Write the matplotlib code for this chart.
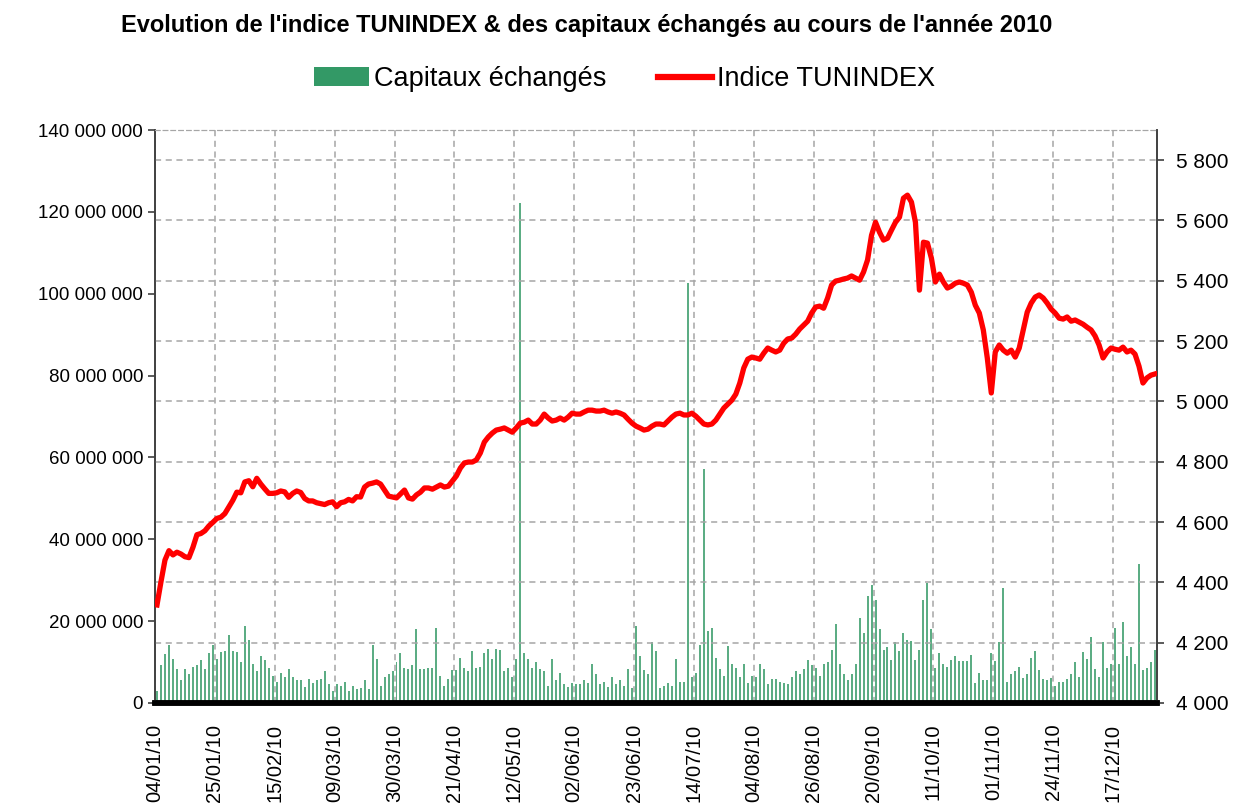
import matplotlib
matplotlib.use('Agg')
import matplotlib.pyplot as plt
import numpy as np
from matplotlib.patches import Patch
from matplotlib.lines import Line2D
from matplotlib.ticker import FuncFormatter, MultipleLocator

plt.rcParams['font.family'] = ['Liberation Sans', 'DejaVu Sans']

GREEN = '#339966'
RED = '#ff0000'
GRID = '#a6a6a6'

# tick labels: one every 15 trading days
date_labels = ['04/01/10', '25/01/10', '15/02/10', '09/03/10', '30/03/10',
               '21/04/10', '12/05/10', '02/06/10', '23/06/10', '14/07/10',
               '04/08/10', '26/08/10', '20/09/10', '11/10/10', '01/11/10',
               '24/11/10', '17/12/10']

# daily traded capital, millions of dinars
capitaux_m = [
    3.0, 9.3, 11.9, 14.2, 10.8, 8.3, 5.5, 8.3, 7.1, 8.9,
    9.3, 10.5, 8.3, 12.1, 14.2, 10.8, 12.4, 12.7, 16.5, 12.7,
    12.4, 9.9, 18.9, 15.5, 9.6, 7.7, 11.5, 10.5, 8.6, 6.7,
    5.2, 7.4, 6.4, 8.3, 6.4, 5.5, 5.5, 4.0, 5.9, 4.9,
    5.5, 5.9, 7.7, 4.6, 3.0, 4.6, 4.2, 5.2, 3.0, 4.2,
    3.3, 3.7, 5.5, 3.3, 14.2, 10.8, 4.2, 6.4, 7.1, 7.7,
    9.9, 12.1, 8.6, 8.3, 9.3, 18.0, 8.3, 8.3, 8.6, 8.6,
    18.4, 6.7, 4.2, 5.9, 8.0, 8.0, 11.1, 8.6, 7.7, 12.7,
    8.6, 8.9, 12.1, 13.3, 10.8, 13.3, 13.0, 7.7, 8.6, 6.4,
    10.8, 122.2, 12.1, 10.8, 8.6, 9.9, 8.3, 7.7, 4.2, 10.8,
    5.5, 7.4, 4.6, 4.0, 4.9, 4.6, 4.6, 5.5, 4.9, 9.6,
    7.1, 4.6, 5.2, 4.0, 6.4, 4.6, 5.5, 4.2, 8.3, 3.7,
    18.7, 11.5, 8.0, 7.1, 14.8, 12.7, 3.7, 4.2, 4.9, 4.2,
    10.8, 5.2, 5.2, 102.6, 6.4, 7.4, 14.2, 57.2, 17.6, 18.4,
    11.1, 8.3, 6.7, 14.0, 9.6, 8.6, 6.4, 9.6, 4.9, 6.7,
    6.4, 9.6, 8.3, 4.6, 5.9, 5.9, 5.2, 4.9, 4.6, 6.4,
    7.7, 7.1, 8.3, 10.5, 9.3, 8.6, 6.7, 9.6, 9.9, 13.0,
    19.3, 9.6, 7.1, 5.5, 7.1, 9.6, 20.8, 17.1, 26.1, 28.9,
    25.2, 18.0, 13.0, 13.7, 10.5, 14.8, 12.7, 17.1, 15.5, 15.2,
    10.5, 13.0, 25.2, 29.3, 18.0, 8.6, 12.1, 9.6, 8.9, 10.5,
    11.5, 10.2, 10.2, 10.2, 11.8, 4.9, 7.4, 5.5, 5.5, 12.1,
    10.2, 14.8, 28.0, 5.2, 7.1, 7.7, 8.9, 6.1, 7.1, 11.1,
    12.7, 8.0, 5.9, 5.5, 6.1, 4.2, 5.2, 5.2, 5.9, 7.1,
    9.9, 6.4, 12.4, 10.8, 16.2, 8.3, 6.4, 14.8, 8.6, 9.6,
    18.4, 9.6, 19.9, 11.5, 13.7, 9.6, 33.9, 8.0, 8.6, 9.9,
    13.0,
]

# TUNINDEX closing values
tunindex = [
    4325, 4402, 4474, 4505, 4491, 4500, 4494, 4485, 4482, 4516,
    4558, 4562, 4571, 4587, 4599, 4612, 4616, 4628, 4650, 4672,
    4699, 4697, 4733, 4737, 4717, 4745, 4726, 4710, 4695, 4695,
    4697, 4703, 4700, 4682, 4695, 4703, 4698, 4678, 4670, 4670,
    4664, 4661, 4658, 4664, 4667, 4651, 4664, 4667, 4675, 4670,
    4684, 4683, 4716, 4726, 4729, 4733, 4726, 4706, 4686, 4683,
    4680, 4693, 4706, 4680, 4676, 4690, 4699, 4713, 4713, 4709,
    4716, 4723, 4716, 4719, 4736, 4753, 4779, 4796, 4799, 4799,
    4806, 4829, 4865, 4882, 4895, 4905, 4908, 4912, 4905, 4898,
    4912, 4928, 4931, 4938, 4925, 4925, 4938, 4958, 4945, 4935,
    4938, 4945, 4938, 4948, 4961, 4958, 4958, 4965, 4971, 4971,
    4968, 4968, 4971, 4965, 4961, 4965, 4961, 4955, 4941, 4928,
    4918, 4912, 4905, 4908, 4918, 4925, 4925, 4922, 4935, 4948,
    4958, 4961, 4955, 4955, 4961, 4951, 4938, 4925, 4922, 4925,
    4938, 4958, 4978, 4991, 5004, 5024, 5061, 5111, 5140, 5147,
    5144, 5140, 5160, 5177, 5170, 5164, 5170, 5193, 5207, 5210,
    5223, 5240, 5253, 5266, 5293, 5313, 5316, 5309, 5343, 5386,
    5399, 5402, 5406, 5409, 5416, 5409, 5402, 5429, 5469, 5551,
    5594, 5561, 5535, 5541, 5568, 5594, 5611, 5674, 5684, 5661,
    5594, 5369, 5528, 5525, 5475, 5396, 5422, 5396, 5376, 5382,
    5392, 5396, 5392, 5386, 5362, 5319, 5293, 5237, 5144, 5028,
    5164, 5187, 5170, 5160, 5170, 5147, 5177, 5237, 5296, 5326,
    5346, 5353, 5343, 5326, 5306, 5293, 5276, 5273, 5280, 5266,
    5270, 5263, 5256, 5246, 5237, 5217, 5187, 5144, 5164, 5177,
    5173, 5170, 5180, 5164, 5170, 5157, 5117, 5061, 5078, 5087,
    5091,
]

n = len(capitaux_m)
x = np.arange(n) + 0.5
capitaux = np.array(capitaux_m) * 1e6


def space_thousands(v, pos):
    return f'{int(round(v)):,}'.replace(',', ' ')


fig = plt.figure(figsize=(12.35, 8.07), dpi=100)
ax = fig.add_axes([0.1255, 0.1289, 0.8113, 0.710])
ax2 = ax.twinx()

ax.bar(x, capitaux, width=0.5, color=GREEN, alpha=0.8, linewidth=0, zorder=2)
ax2.plot(x, tunindex, color=RED, lw=3.8, solid_joinstyle='round', zorder=5)

ax.set_xlim(0, n)
ax.set_ylim(0, 140e6)
ax2.set_ylim(4000, 5900)

ax.yaxis.set_major_locator(MultipleLocator(20e6))
ax.yaxis.set_major_formatter(FuncFormatter(space_thousands))
ax2.set_yticks(np.arange(4000, 5801, 200))
ax2.yaxis.set_major_formatter(FuncFormatter(space_thousands))

ax.set_xticks(np.arange(len(date_labels)) * 15)
ax.set_xticklabels(date_labels, rotation=90, fontsize=14.5)
ax.tick_params(axis='x', length=0, pad=15)
ax.tick_params(axis='y', labelsize=13.5, length=5, width=1.2, color='#404040')
ax2.tick_params(axis='y', labelsize=15, length=5, width=1.2, color='#404040', pad=9)

# gridlines: vertical on date ticks, horizontal on the index ticks
ax.grid(axis='x', color=GRID, ls=(0, (4, 3)), lw=1.1, zorder=1)
ax2.grid(axis='y', color=GRID, ls=(0, (4, 3)), lw=1.1)
ax.set_axisbelow(True)
ax2.set_zorder(ax.get_zorder() + 1)
ax2.patch.set_visible(False)

for a in (ax, ax2):
    a.spines['top'].set_color(GRID)
    a.spines['top'].set_linestyle((0, (4, 3)))
    a.spines['left'].set_color('#404040')
    a.spines['right'].set_color('#404040')
    a.spines['left'].set_linewidth(1.2)
    a.spines['right'].set_linewidth(1.2)
    a.spines['bottom'].set_color('black')
    a.spines['bottom'].set_linewidth(4)

fig.text(0.475, 0.968, "Evolution de l'indice TUNINDEX & des capitaux échangés au cours de l'année 2010",
         ha='center', va='center', fontsize=17, fontweight='bold')

handles = [Patch(facecolor=GREEN, edgecolor='none'),
           Line2D([0], [0], color=RED, lw=4.5)]
fig.legend(handles, ['Capitaux échangés', 'Indice TUNINDEX'],
           loc='center', bbox_to_anchor=(0.506, 0.902), ncol=2, frameon=False,
           fontsize=19.5, handlelength=2.0, handletextpad=0.2, columnspacing=1.9)

fig.savefig('out.png', dpi=100)
